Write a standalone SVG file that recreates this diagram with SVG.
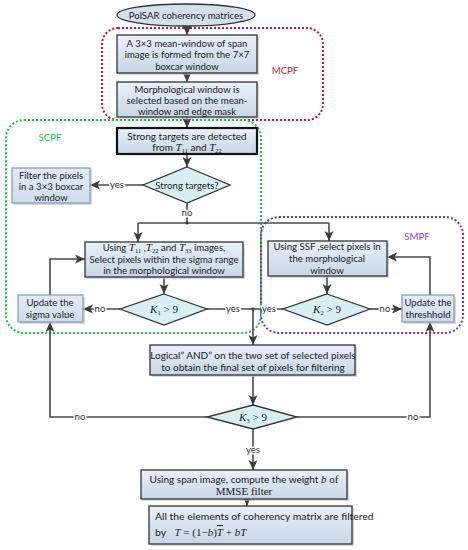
<svg xmlns="http://www.w3.org/2000/svg" width="468" height="550" viewBox="0 0 468 550">
<defs>
<linearGradient id="gBox" x1="0" y1="0" x2="0" y2="1">
<stop offset="0" stop-color="#e9f0f8"/>
<stop offset="1" stop-color="#c8d6e8"/>
</linearGradient>
<linearGradient id="gSmall" x1="0" y1="0" x2="0" y2="1">
<stop offset="0" stop-color="#e4ecf6"/>
<stop offset="1" stop-color="#cfdcec"/>
</linearGradient>
<marker id="ah" viewBox="0 0 10 10" refX="10" refY="5" markerWidth="10" markerHeight="10" markerUnits="userSpaceOnUse" orient="auto">
<path d="M0,0.5 L10,5 L0,9.5 L2.5,5 z" fill="#3c3c3c"/>
</marker>
</defs>
<style>
text{font-family:Lato,"Liberation Sans",sans-serif;font-size:9.6px;fill:#222;text-anchor:middle}
.box{fill:url(#gBox);stroke:#333;stroke-width:1.3}
.bold{fill:url(#gBox);stroke:#111;stroke-width:2.2}
.small{fill:url(#gSmall);stroke:#8797ad;stroke-width:1.2}
.shadow{fill:#bfbfbf;opacity:0.6}
.dia{fill:#d8f0f3;stroke:#333;stroke-width:1.3}
.ln{fill:none;stroke:#4a4a4a;stroke-width:1.6}
.arr{fill:none;stroke:#4a4a4a;stroke-width:1.6;marker-end:url(#ah)}
.lbl{paint-order:stroke;stroke:#fff;stroke-width:3px;fill:#333}
.m{font-family:"Liberation Serif",serif;font-style:italic;font-size:11px}
.sub{font-family:"Liberation Serif",serif;font-size:6.5px;font-style:normal}
.serif{font-family:"Liberation Serif",serif;font-size:11px}
.reg{fill:none;stroke-width:2;stroke-dasharray:2 2}
</style>

<g id="regions">
<rect x="102" y="28" width="221" height="92" rx="16" class="reg" stroke="#c4163f"/>
<rect x="6" y="120" width="255" height="213" rx="18" class="reg" stroke="#1fbf4a"/>
<rect x="261" y="217" width="202" height="116" rx="18" class="reg" stroke="#7b2fc4"/>
<text x="285" y="74" style="fill:#c4163f">MCPF</text>
<text x="50" y="141" style="fill:#1fbf4a">SCPF</text>
<text x="417" y="240" style="fill:#8a3fcf">SMPF</text>
</g>

<g id="connectors">
<line x1="187" y1="26" x2="187" y2="35" class="arr"/>
<line x1="187" y1="73" x2="187" y2="82" class="arr"/>
<line x1="187" y1="117" x2="187" y2="128" class="arr"/>
<line x1="187" y1="154" x2="187" y2="167" class="arr"/>
<line x1="143" y1="185" x2="90" y2="185" class="arr"/>
<polyline points="187,203 187,223" class="ln"/>
<polyline points="138,223 329,223" class="ln"/>
<line x1="138" y1="223" x2="138" y2="242" class="arr"/>
<line x1="329" y1="223" x2="329" y2="241" class="arr"/>
<circle cx="187" cy="223" r="1.6" fill="#333"/>
<line x1="164" y1="277" x2="164" y2="294" class="arr"/>
<line x1="120" y1="309" x2="83" y2="309" class="arr"/>
<polyline points="50,295 50,259 85,259" class="arr"/>
<polyline points="207,309 283,309" class="ln"/>
<circle cx="253" cy="309" r="1.6" fill="#333"/>
<line x1="253" y1="309" x2="253" y2="345" class="arr"/>
<line x1="327" y1="276" x2="327" y2="294" class="arr"/>
<line x1="370" y1="309" x2="402" y2="309" class="arr"/>
<polyline points="430,295 430,257 387,257" class="arr"/>
<line x1="253" y1="375" x2="253" y2="405" class="arr"/>
<polyline points="207,417 50,417 50,322" class="arr"/>
<polyline points="297,417 430,417 430,322" class="arr"/>
<line x1="253" y1="429" x2="253" y2="470" class="arr"/>
<line x1="247" y1="499" x2="247" y2="506" class="arr"/>
<text x="117" y="188" class="lbl">yes</text>
<text x="187" y="216" class="lbl">no</text>
<text x="100" y="312" class="lbl">no</text>
<text x="233" y="312" class="lbl">yes</text>
<text x="269" y="312" class="lbl">yes</text>
<text x="385" y="312" class="lbl">no</text>
<text x="80" y="420" class="lbl">no</text>
<text x="413" y="420" class="lbl">no</text>
<text x="253" y="453" class="lbl">yes</text>
</g>

<g id="start">
<ellipse cx="186" cy="15" rx="69" ry="11" fill="#d5e0ee" stroke="#333" stroke-width="1.3"/>
<text x="186" y="18.5">PolSAR coherency matrices</text>
</g>

<g id="box1">
<rect x="119" y="37" width="140" height="38" class="shadow"/>
<rect x="117" y="35" width="140" height="38" class="box"/>
<text x="187" y="46.5">A 3×3 mean-window of span</text>
<text x="187" y="58">image is formed from the 7×7</text>
<text x="187" y="69.5">boxcar window</text>
</g>

<g id="box2">
<rect x="119" y="84" width="140" height="35" class="shadow"/>
<rect x="117" y="82" width="140" height="35" class="box"/>
<text x="187" y="92.5">Morphological window is</text>
<text x="187" y="104">selected based on the mean-</text>
<text x="187" y="115">window and edge mask</text>
</g>

<g id="box3">
<rect x="117" y="128" width="140" height="26" class="bold"/>
<text x="187" y="139.5" style="font-size:10px">Strong targets are detected</text>
<text x="187" y="151" style="font-size:10px">from <tspan class="m">T</tspan><tspan class="sub" baseline-shift="-2">11</tspan>  and  <tspan class="m">T</tspan><tspan class="sub" baseline-shift="-2">22</tspan></text>
</g>

<g id="dec-strong">
<polygon points="187,167 230,185 187,203 143,185" class="dia"/>
<text x="187" y="188.5">Strong targets?</text>
</g>

<g id="box-filter">
<rect x="14" y="170" width="78" height="35" class="shadow"/>
<rect x="12" y="168" width="78" height="35" class="small"/>
<text x="51" y="178.5">Filter the pixels</text>
<text x="51" y="189.5">in a 3×3 boxcar</text>
<text x="51" y="200.5">window</text>
</g>

<g id="box4">
<rect x="87" y="244" width="158" height="35" class="shadow"/>
<rect x="85" y="242" width="158" height="35" class="box"/>
<text x="164" y="251">Using <tspan class="m">T</tspan><tspan class="sub" baseline-shift="-2">11</tspan> ,<tspan class="m">T</tspan><tspan class="sub" baseline-shift="-2">22</tspan>   and  <tspan class="m">T</tspan><tspan class="sub" baseline-shift="-2">33</tspan>   images,</text>
<text x="164" y="262.5">Select pixels within the sigma range</text>
<text x="164" y="274">in the morphological window</text>
</g>

<g id="dec-k1">
<polygon points="164,294 207,309 164,325 120,309" class="dia"/>
<text x="164" y="312.5"><tspan class="m">K</tspan><tspan class="sub" baseline-shift="-2">1</tspan><tspan class="serif"> &gt; 9</tspan></text>
</g>

<g id="box-sigma">
<rect x="20" y="297" width="65" height="27" class="shadow"/>
<rect x="18" y="295" width="65" height="27" class="small"/>
<text x="50" y="306">Update the</text>
<text x="50" y="318">sigma value</text>
</g>

<g id="box-ssf">
<rect x="270" y="243" width="119" height="35" class="shadow"/>
<rect x="268" y="241" width="119" height="35" class="box"/>
<text x="327" y="250">Using SSF ,select pixels in</text>
<text x="327" y="262">the morphological</text>
<text x="327" y="274">window</text>
</g>

<g id="dec-k2">
<polygon points="327,294 370,309 327,325 283,309" class="dia"/>
<text x="327" y="312.5"><tspan class="m">K</tspan><tspan class="sub" baseline-shift="-2">2</tspan><tspan class="serif"> &gt; 9</tspan></text>
</g>

<g id="box-thresh">
<rect x="404" y="297" width="52" height="27" class="shadow"/>
<rect x="402" y="295" width="52" height="27" class="small"/>
<text x="428" y="306">Update the</text>
<text x="428" y="318">threshhold</text>
</g>

<g id="box-and">
<rect x="152" y="347" width="205" height="30" class="shadow"/>
<rect x="150" y="345" width="205" height="30" class="box"/>
<text x="253" y="358.5" style="font-size:10px">Logical” AND” on the two set of selected pixels</text>
<text x="253" y="370.5" style="font-size:10px">to obtain the final set of pixels for filtering</text>
</g>

<g id="dec-k3">
<polygon points="253,405 297,417 253,429 207,417" class="dia"/>
<text x="253" y="420.5"><tspan class="m">K</tspan><tspan class="sub" baseline-shift="-2">3</tspan><tspan class="serif"> &gt; 9</tspan></text>
</g>

<g id="box-mmse">
<rect x="143" y="472" width="206" height="29" class="shadow"/>
<rect x="141" y="470" width="206" height="29" class="box"/>
<text x="244" y="482.5" style="font-size:10px">Using span image, compute the weight <tspan class="m">b</tspan><tspan class="serif"> of</tspan></text>
<text x="244" y="495" class="serif">MMSE filter</text>
</g>

<g id="box-final">
<rect x="151" y="508" width="203" height="38" class="shadow"/>
<rect x="149" y="506" width="203" height="38" class="box"/>
<text x="155" y="520" style="text-anchor:start;font-size:10.4px">All the elements of coherency matrix are filtered</text>
<text x="155" y="536" style="text-anchor:start;font-size:10.4px">by <tspan class="m" dx="6">T</tspan><tspan class="serif"> = (1−</tspan><tspan class="m">b</tspan><tspan class="serif">)</tspan><tspan class="m" text-decoration="overline">T</tspan><tspan class="serif"> + </tspan><tspan class="m">bT</tspan></text>
</g>
</svg>
